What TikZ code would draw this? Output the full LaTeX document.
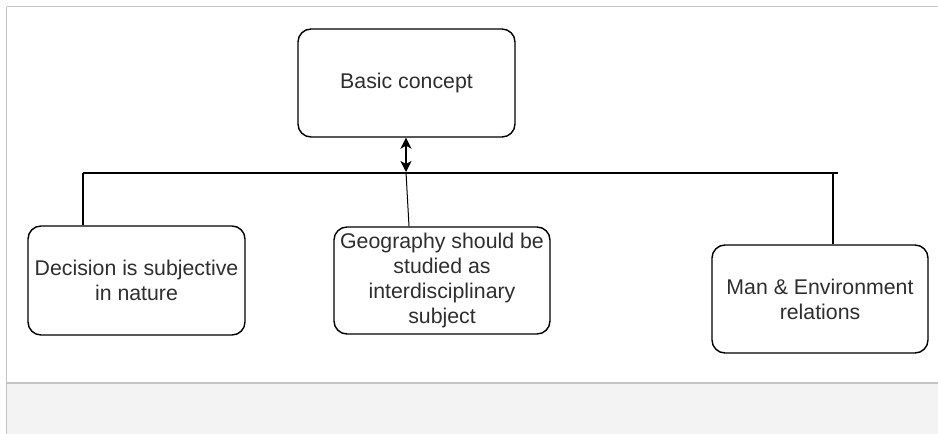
\documentclass[tikz,border=0pt]{standalone}
\usepackage{fontspec}
\setmainfont{Liberation Sans}
\usetikzlibrary{arrows.meta}
\definecolor{frame}{HTML}{C4C4C4}
\definecolor{panel}{HTML}{F3F3F3}
\definecolor{txt}{HTML}{2E2E2E}
\begin{document}
\begin{tikzpicture}[x=1pt,y=-1pt,
  box/.style={draw=black,line width=1.4pt,rounded corners=13pt,fill=white,
    text=txt,align=center,font=\fontsize{21.3}{25}\selectfont,inner sep=0pt},
  conn/.style={draw=black,line width=1.4pt},
  dbl/.style={{Stealth[width=11pt,length=11pt,inset=3pt]}-{Stealth[width=11pt,length=11pt,inset=3pt]}},
  framel/.style={draw=frame,line width=1.5pt}]
\useasboundingbox (0,0) rectangle (938,434);
\fill[white] (0,0) rectangle (938,434);
\fill[panel] (7,383) rectangle (938,434);
\draw[framel] (6.5,6.5) -- (938,6.5);
\draw[framel] (6.5,6.5) -- (6.5,434);
\draw[framel] (6.5,383) -- (938,383);

\node[box,minimum width=217pt,minimum height=108pt] (basic) at (406.5,83) {Basic concept};
\node[box,minimum width=217pt,minimum height=109pt] (dec) at (136.5,280.5) {Decision is subjective\\in nature};
\node[box,minimum width=216pt,minimum height=107pt] (geo) at (442,280.5) {Geography should be\\studied as\\interdisciplinary\\subject};
\node[box,minimum width=216pt,minimum height=108pt] (man) at (820,299) {Man \& Environment\\relations};

\coordinate (hl) at (83,173);
\coordinate (hr) at (838,173);
\coordinate (vr) at (833,173);
\coordinate (j) at (406,172);

\draw[conn] (hl) -- (hr);
\draw[conn] (hl) -- (hl |- dec.north);
\draw[conn] (vr) -- (vr |- man.north);
\draw[conn,dbl] (basic.south -| j) -- (j);
\draw[line width=1pt] (j) -- ([xshift=-33pt]geo.north);
\end{tikzpicture}
\end{document}
